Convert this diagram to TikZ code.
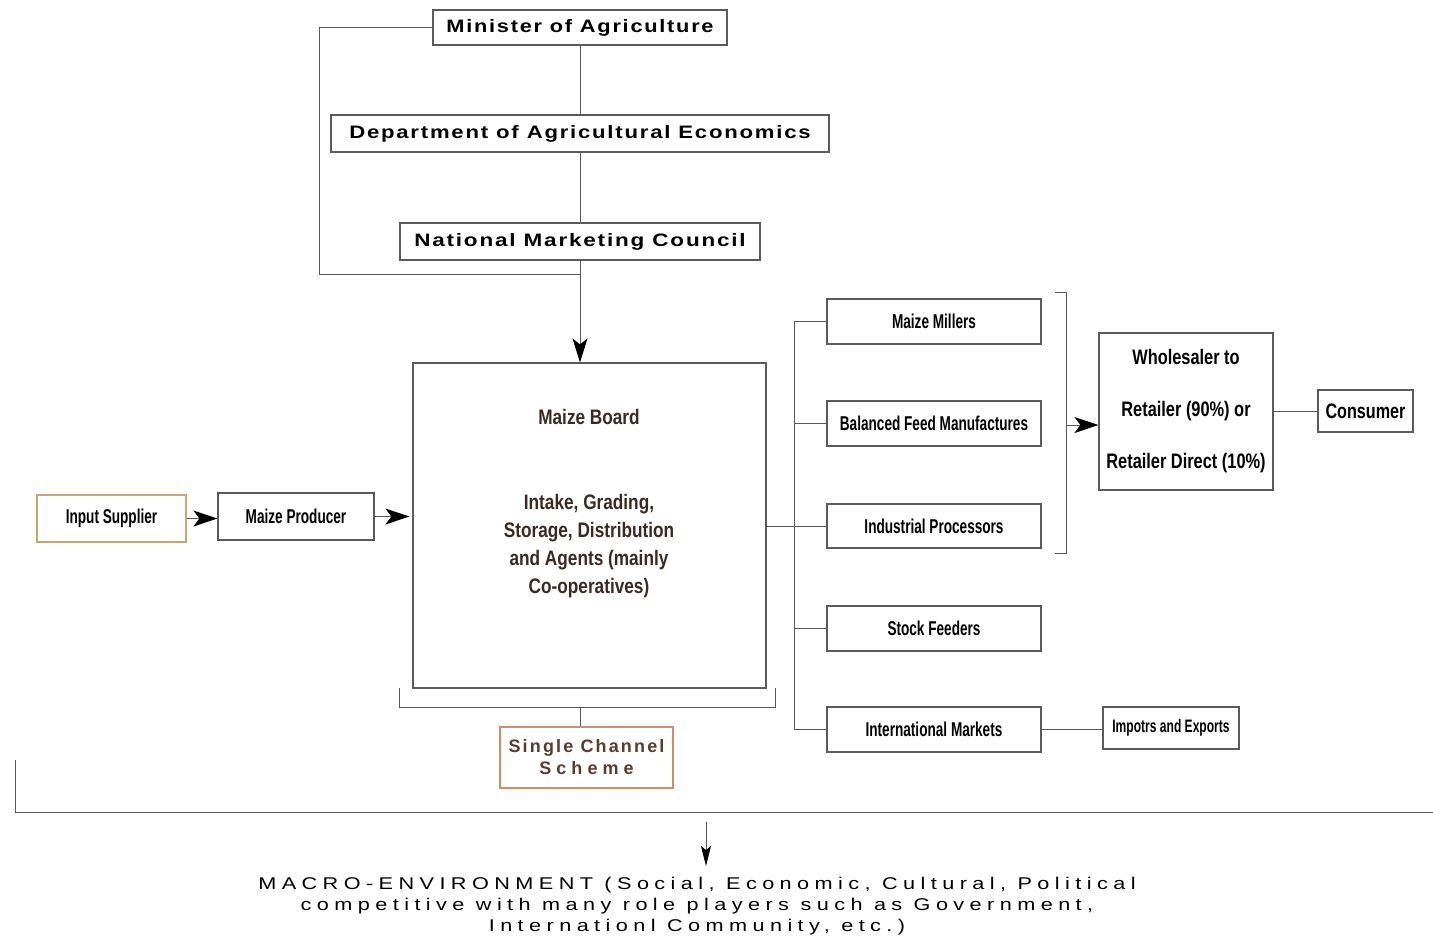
\documentclass[tikz,border=0pt]{standalone}
\usepackage{fontspec}
\usepackage{graphicx}
\setmainfont{Liberation Sans}
\newfontfamily\widefont[LetterSpace=8]{Liberation Sans}
\newfontfamily\scsfont[LetterSpace=12]{Liberation Sans}
\newfontfamily\scsfontB[LetterSpace=28]{Liberation Sans}
\newfontfamily\macrofont[LetterSpace=25]{Liberation Sans}
\usetikzlibrary{arrows.meta}
\definecolor{ln}{HTML}{555555}
\definecolor{bdr}{HTML}{5A5A5A}
\definecolor{tanb}{HTML}{C9A66C}
\definecolor{scsb}{HTML}{D98A6A}
\definecolor{scst}{HTML}{5C3A2E}
\definecolor{brd}{HTML}{3B2A22}
\newcommand{\nw}[2]{\scalebox{#1}[1]{#2}}
\tikzset{
  box/.style={draw=bdr, line width=0.6pt, inner sep=0pt, fill=white},
  topbox/.style={box, font=\widefont\bfseries\fontsize{9}{11}\selectfont},
  catbox/.style={box, minimum width=107pt, minimum height=22.5pt, font=\bfseries\fontsize{10}{12}\selectfont},
  conn/.style={draw=ln, line width=0.5pt},
  arr/.style={conn, -{Stealth[length=12pt, width=8pt, inset=3pt, color=black]}},
  arrd/.style={conn, -{Stealth[length=12pt, width=7.5pt, inset=3pt, color=black]}},
  arrs/.style={conn, -{Stealth[length=10pt, width=5pt, inset=2pt, color=black]}},
}
\begin{document}
\begin{tikzpicture}[x=0.5pt, y=-0.5pt]
\useasboundingbox (0,0) rectangle (1433,939);
% top chain
\node[topbox, minimum width=147pt, minimum height=17.5pt] (min) at (580,27.5) {\nw{1.21}{Minister of Agriculture}};
\node[topbox, minimum width=249pt, minimum height=18.5pt] (dept) at (580,133.5) {\nw{1.23}{Department of Agricultural Economics}};
\node[topbox, minimum width=180pt, minimum height=18.5pt] (nmc) at (580,241.5) {\nw{1.25}{National Marketing Council}};
% maize board
\node[box, minimum width=176.5pt, minimum height=162.5pt] (board) at (589.5,525.5) {};
\node[text=brd, font=\bfseries\fontsize{10.5}{14}\selectfont, inner sep=0pt] (bt) at (589,417) {\nw{0.82}{Maize Board}};
\node[text=brd, font=\bfseries\fontsize{10.5}{14}\selectfont, inner sep=0pt, align=center] (bx) at (589,546) {\nw{0.82}{Intake, Grading,}\\\nw{0.82}{Storage, Distribution}\\\nw{0.82}{and Agents (mainly}\\\nw{0.82}{Co-operatives)}};
% single channel
\node[box, draw=scsb, text=scst, minimum width=86.5pt, minimum height=30.5pt, align=center, font=\bfseries\fontsize{9}{11}\selectfont] (scs) at (586.5,757.5) {{\scsfont\bfseries Single Channel}\\{\scsfontB\bfseries Scheme}};
% left
\node[box, draw=tanb, minimum width=74.5pt, minimum height=23.5pt, font=\bfseries\fontsize{10}{12}\selectfont] (input) at (111.5,518.5) {\nw{0.68}{Input Supplier}};
\node[box, minimum width=78pt, minimum height=23.5pt, font=\bfseries\fontsize{10}{12}\selectfont] (prod) at (296,516.5) {\nw{0.68}{Maize Producer}};
% categories
\node[catbox] (mill) at (934,321.5) {\nw{0.68}{Maize Millers}};
\node[catbox] (feed) at (934,423.5) {\nw{0.68}{Balanced Feed Manufactures}};
\node[catbox, minimum height=22pt] (indus) at (934,526) {\nw{0.68}{Industrial Processors}};
\node[catbox] (stock) at (934,628.5) {\nw{0.68}{Stock Feeders}};
\node[catbox] (intl) at (934,729.5) {\nw{0.68}{International Markets}};
\node[box, minimum width=68pt, minimum height=21pt, font=\bfseries\fontsize{9}{11}\selectfont] (imp) at (1171,728) {\nw{0.67}{Impotrs and Exports}};
% wholesaler, consumer
\node[box, minimum width=87pt, minimum height=78.5pt, align=center, font=\bfseries\fontsize{10.5}{26}\selectfont] (whole) at (1186,411.5) {\nw{0.78}{Wholesaler to}\\\nw{0.78}{Retailer (90\%) or}\\\nw{0.78}{Retailer Direct (10\%)}};
\node[box, minimum width=47.5pt, minimum height=21pt, font=\bfseries\fontsize{10.5}{12}\selectfont] (cons) at (1365.5,411) {\nw{0.77}{Consumer}};
% macro text
\node[anchor=north, inner sep=0pt, align=center, font=\macrofont\fontsize{8.5}{10.5}\selectfont] (macro) at (697,877) {\nw{1.275}{MACRO-ENVIRONMENT (Social, Economic, Cultural, Political}\\\nw{1.275}{competitive with many role players such as Government,}\\\nw{1.275}{Internationl Community, etc.)}};

% connectors top
\coordinate (jn) at (580,274);
\draw[conn] (min.west) -- ++(-113,0) |- (jn);
\draw[conn] (min.south) -- (dept.north);
\draw[conn] (dept.south) -- (nmc.north);
\draw[arrd] (nmc.south) -- (nmc.south |- board.north);
% left arrows
\draw[arr] (input.east) -- (input.east -| prod.west);
\draw[arr] (prod.east) -- ([xshift=-1.5pt]prod.east -| board.west);
% board bracket
\coordinate (bbl) at (399,688); \coordinate (bbr) at (775,688);
\coordinate (bbm) at (580,707);
\draw[conn] (bbl) -- (399,707) -- (775,707) -- (bbr);
\draw[conn] (bbm) -- (bbm |- scs.north);
% bus
\draw[conn] (board.east |- indus.west) -- (indus.west);
\draw[conn] (mill.west) -- ++(-32,0) |- (intl.west);
\draw[conn] (feed.west) -- ++(-32,0);
\draw[conn] (stock.west) -- ++(-32,0);
% right bracket
\coordinate (rbt) at (1055,292); \coordinate (rbb) at (1055,553);
\draw[conn] (rbt) -- (1066,292) -- (1066,553) -- (rbb);
\coordinate (rba) at (1066,425);
\draw[arr] (rba) -- (rba -| whole.west);
\draw[conn] (whole.east |- cons.west) -- (cons.west);
\draw[conn] (intl.east) -- (intl.east -| imp.west);
% bottom frame
\coordinate (fl) at (15,760);
\draw[conn] (fl) -- (15,812) -- (1433,812);
\coordinate (ma) at (706,822);
\draw[arrs] (ma) -- (706,866);
\end{tikzpicture}
\end{document}
